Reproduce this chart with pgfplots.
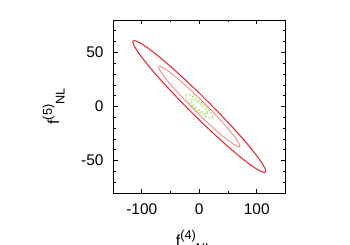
\documentclass[border=0pt]{standalone}
\usepackage{fontspec}
\setmainfont{Liberation Sans}
\usepackage{pgfplots}
\pgfplotsset{compat=1.18}
\definecolor{cred}{RGB}{232,30,40}
\definecolor{cpink}{RGB}{240,130,130}
\definecolor{cgreen}{RGB}{150,225,80}
\newcommand{\lab}[2]{#1\raisebox{0.44em}{\fontsize{12.8}{14}\selectfont(#2)}\raisebox{-0.36em}{\fontsize{12.8}{14}\selectfont NL}}
\begin{document}
\begin{tikzpicture}
\useasboundingbox (0,0) rectangle (350bp,245bp);
\begin{axis}[
  at={(113bp,52bp)}, anchor=south west,
  scale only axis, width=172.5bp, height=173bp,
  xmin=-150, xmax=150, ymin=-80, ymax=80,
  xtick={-100,0,100}, xticklabels={-100,0,100},
  minor xtick={-50,50},
  ytick={-50,0,50}, yticklabels={-50,0,50},
  minor ytick={-70,-60,-40,-30,-20,-10,10,20,30,40,60,70},
  tick align=inside,
  major tick length=4.5bp, minor tick length=2.5bp,
  every tick/.style={black, line width=0.7bp},
  axis line style={black, line width=0.8bp},
  ticklabel style={font=\fontsize{15.5}{18}\selectfont},
  xticklabel style={yshift=-7bp},
  yticklabel style={xshift=-6bp},
  label style={font=\fontsize{16}{19}\selectfont},
  xlabel={\lab{f}{4}},
  ylabel={\lab{f}{5}},
  xlabel style={at={(axis description cs:0.47,-0.31)}, anchor=base},
  ylabel style={at={(axis description cs:-0.313,0.5)}, anchor=base},
  clip=true,
]
% outer (2 sigma) red
\addplot[cred, line width=1bp, line join=round] coordinates {
(115.5,-59.72)(115.06,-58.41)(113.74,-56.65)(108.54,-51.87)(100.02,-45.50)(88.47,-37.75)(74.24,-28.86)(57.75,-19.09)(39.50,-8.73)(20.05,1.88)(0,12.44)
(-20.05,22.62)(-39.50,32.11)(-57.75,40.63)(-74.24,47.92)(-88.47,53.75)(-100.02,57.94)(-108.54,60.37)(-113.74,60.97)(-115.06,60.57)(-115.5,59.72)
(-115.06,58.41)(-113.74,56.65)(-108.54,51.87)(-100.02,45.50)(-88.47,37.75)(-74.24,28.86)(-57.75,19.09)(-39.50,8.73)(-20.05,-1.88)(0,-12.44)
(20.05,-22.62)(39.50,-32.11)(57.75,-40.63)(74.24,-47.92)(88.47,-53.75)(100.02,-57.94)(108.54,-60.37)(113.74,-60.97)(115.06,-60.57)(115.5,-59.72)
};
% inner (1 sigma) pink
\addplot[cpink, line width=0.8bp, line join=round] coordinates {
(70.5,-36.42)(70.23,-35.62)(69.43,-34.55)(66.25,-31.63)(61.05,-27.75)(54.00,-23.02)(45.32,-17.60)(35.25,-11.64)(24.11,-5.33)(12.24,1.15)(0,7.59)
(-12.24,13.79)(-24.11,19.59)(-35.25,24.78)(-45.32,29.22)(-54.00,32.78)(-61.05,35.33)(-66.25,36.81)(-69.43,37.19)(-70.23,36.94)(-70.5,36.42)
(-70.23,35.62)(-69.43,34.55)(-66.25,31.63)(-61.05,27.75)(-54.00,23.02)(-45.32,17.60)(-35.25,11.64)(-24.11,5.33)(-12.24,-1.15)(0,-7.59)
(12.24,-13.79)(24.11,-19.59)(35.25,-24.78)(45.32,-29.22)(54.00,-32.78)(61.05,-35.33)(66.25,-36.81)(69.43,-37.19)(70.23,-36.94)(70.5,-36.42)
};
% green outer
\addplot[cgreen, line width=0.8bp, dash pattern=on 2bp off 1.5bp] coordinates {
(24,-9.68)(23.64,-8.62)(22.55,-7.31)(20.78,-5.77)(18.38,-4.05)(15.43,-2.22)(12.00,-0.32)(8.21,1.60)(4.17,3.46)(0,5.22)
(-4.17,6.82)(-8.21,8.22)(-12.00,9.36)(-15.43,10.22)(-18.38,10.77)(-20.78,10.99)(-22.55,10.89)(-23.64,10.44)(-24,9.68)
(-23.64,8.62)(-22.55,7.31)(-20.78,5.77)(-18.38,4.05)(-15.43,2.22)(-12.00,0.32)(-8.21,-1.60)(-4.17,-3.46)(0,-5.22)
(4.17,-6.82)(8.21,-8.22)(12.00,-9.36)(15.43,-10.22)(18.38,-10.77)(20.78,-10.99)(22.55,-10.89)(23.64,-10.44)(24,-9.68)
};
% green inner
\addplot[cgreen, line width=0.8bp, dash pattern=on 2bp off 1.5bp] coordinates {
(14.64,-5.90)(14.42,-5.26)(13.76,-4.46)(12.68,-3.52)(11.21,-2.47)(9.41,-1.35)(7.32,-0.20)(5.01,0.98)(2.54,2.11)(0,3.18)
(-2.54,4.16)(-5.01,5.01)(-7.32,5.71)(-9.41,6.23)(-11.21,6.57)(-12.68,6.70)(-13.76,6.64)(-14.42,6.37)(-14.64,5.90)
(-14.42,5.26)(-13.76,4.46)(-12.68,3.52)(-11.21,2.47)(-9.41,1.35)(-7.32,0.20)(-5.01,-0.98)(-2.54,-2.11)(0,-3.18)
(2.54,-4.16)(5.01,-5.01)(7.32,-5.71)(9.41,-6.23)(11.21,-6.57)(12.68,-6.70)(13.76,-6.64)(14.42,-6.37)(14.64,-5.90)
};
\end{axis}
\end{tikzpicture}
\end{document}
